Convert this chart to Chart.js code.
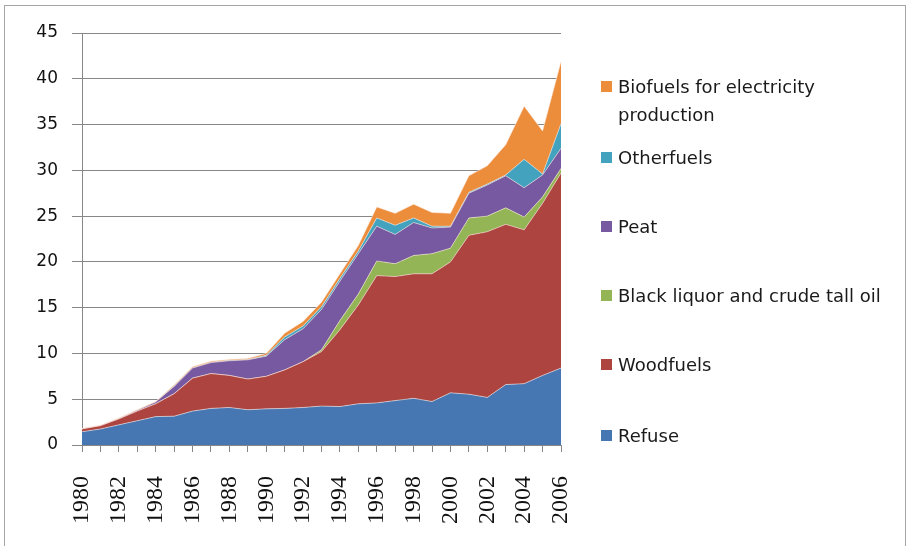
<!DOCTYPE html>
<html>
<head>
<meta charset="utf-8">
<script src="https://cdn.jsdelivr.net/npm/chart.js@4/dist/chart.umd.min.js"></script>
<style>
  html, body { margin: 0; padding: 0; background: #ffffff; }
  #wrap { position: relative; width: 909px; height: 546px; overflow: hidden; background: #fff; }
  #frame { position: absolute; left: 4px; top: 5px; width: 902px; height: 560px; border: 1px solid #a6a6a6; box-sizing: border-box; }
  canvas { position: absolute; left: 0; top: 0; }
  .lg { position: absolute; left: 601px; font-family: "DejaVu Sans", sans-serif; font-size: 18px; line-height: 28px; color: #1a1a1a; white-space: nowrap; }
  .lg .sw { position: absolute; left: 0; top: 8px; width: 11px; height: 11px; }
  .lg .tx { position: absolute; left: 17px; top: 0; }
</style>
</head>
<body>
<div id="wrap">
  <div id="frame"></div>
  <canvas id="c" width="909" height="546"></canvas>
</div>
<script>
const years = ['1980','1981','1982','1983','1984','1985','1986','1987','1988','1989','1990','1991','1992','1993','1994','1995','1996','1997','1998','1999','2000','2001','2002','2003','2004','2005','2006'];
const refuse      = [1.45, 1.75, 2.2, 2.65, 3.1, 3.15, 3.7, 4.0, 4.1, 3.85, 3.95, 4.0, 4.1, 4.25, 4.2, 4.5, 4.6, 4.85, 5.1, 4.75, 5.7, 5.55, 5.2, 6.6, 6.7, 7.6, 8.4];
const woodFuels   = [0.3, 0.35, 0.65, 1.05, 1.4, 2.45, 3.6, 3.8, 3.5, 3.35, 3.55, 4.2, 5.0, 5.95, 8.4, 10.8, 13.9, 13.55, 13.6, 13.95, 14.3, 17.35, 18.1, 17.5, 16.8, 18.8, 21.3];
const blackLiquor = [0, 0, 0, 0, 0, 0, 0, 0, 0, 0, 0, 0, 0, 0.2, 1.0, 1.2, 1.6, 1.4, 2.0, 2.2, 1.5, 1.9, 1.7, 1.8, 1.4, 0.7, 0.5];
const peat        = [0, 0, 0.05, 0.1, 0.2, 0.8, 1.1, 1.2, 1.6, 2.1, 2.2, 3.3, 3.6, 4.4, 4.3, 4.4, 3.8, 3.2, 3.6, 2.8, 2.3, 2.7, 3.4, 3.5, 3.2, 2.4, 2.2];
const otherFuels  = [0, 0, 0, 0, 0, 0.05, 0.05, 0.05, 0.05, 0.05, 0.1, 0.3, 0.3, 0.3, 0.3, 0.3, 0.9, 1.0, 0.5, 0.2, 0.1, 0.1, 0.1, 0.1, 3.1, 0.1, 2.7];
const biofuels    = [0.05, 0.05, 0.05, 0.05, 0.05, 0.1, 0.1, 0.1, 0.1, 0.1, 0.2, 0.4, 0.5, 0.5, 0.5, 0.6, 1.2, 1.3, 1.5, 1.5, 1.4, 1.8, 2.0, 3.3, 5.8, 4.7, 6.8];
const seriesNames = ['Refuse', 'Wood fuels', 'Black liquor and crude tall oil', 'Peat', 'Other fuels', 'Biofuels for electricity production'];
const legendLabels = ['Refuse', 'Woodfuels', 'Black liquor and crude tall oil', 'Peat', 'Otherfuels', 'Biofuels for electricity\nproduction'];
const yTicks = [0, 5, 10, 15, 20, 25, 30, 35, 40, 45];

const colors = ['#4677b3', '#ad4440', '#93b555', '#7659a0', '#43a3bf', '#ec8d3b'];
const seriesData = [refuse, woodFuels, blackLiquor, peat, otherFuels, biofuels];

const datasets = seriesData.map((d, i) => ({
  label: seriesNames[i],
  data: d,
  backgroundColor: colors[i],
  borderColor: 'rgba(255,235,225,0.55)',
  borderWidth: 1,
  pointRadius: 0,
  tension: 0,
  fill: i === 0 ? 'origin' : '-1'
}));

const gridCol = '#878787';

new Chart(document.getElementById('c'), {
  type: 'line',
  data: { labels: years, datasets: datasets },
  options: {
    responsive: false,
    animation: false,
    layout: { padding: { top: 33, right: 348, left: 0, bottom: 0 } },
    plugins: { legend: { display: false }, tooltip: { enabled: false } },
    scales: {
      x: {
        offset: false,
        grid: { drawOnChartArea: false, color: gridCol, tickLength: 7, lineWidth: 1 },
        border: { color: gridCol, width: 1 },
        ticks: {
          autoSkip: false, maxRotation: 90, minRotation: 90, padding: 24,
          color: '#111',
          font: { family: '"Liberation Serif", "Times New Roman", serif', size: 24 },
          callback: function (v, i) { const y = years[i]; return (parseInt(y) % 2 === 0) ? y : ''; }
        },
        afterFit: function (s) { s.height = 101; }
      },
      y: {
        stacked: true,
        min: 0, max: 45,
        afterBuildTicks: function (s) { s.ticks = yTicks.map(v => ({ value: v })); },
        grid: { color: gridCol, tickLength: 10, lineWidth: 1 },
        border: { color: gridCol, width: 1 },
        ticks: {
          padding: 14, color: '#111',
          font: { family: '"DejaVu Sans", sans-serif', size: 17 }
        },
        afterFit: function (s) { s.width = 82; }
      }
    }
  }
});

// HTML legend (reverse order, like the reference)
const legendTops = [422, 351, 282, 213, 144, 73];
const wrap = document.getElementById('wrap');
for (let i = seriesNames.length - 1; i >= 0; i--) {
  const item = document.createElement('div');
  item.className = 'lg';
  item.style.top = legendTops[i] + 'px';
  const sw = document.createElement('div');
  sw.className = 'sw';
  sw.style.background = colors[i];
  const tx = document.createElement('div');
  tx.className = 'tx';
  tx.style.whiteSpace = 'pre';
  tx.textContent = legendLabels[i];
  item.appendChild(sw);
  item.appendChild(tx);
  wrap.appendChild(item);
}
</script>
</body>
</html>
